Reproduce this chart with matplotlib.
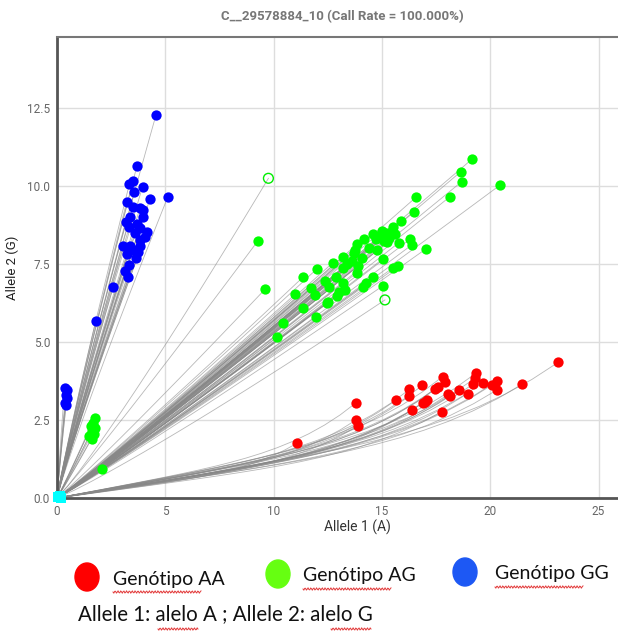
import numpy as np
import matplotlib.pyplot as plt
from matplotlib.patches import Ellipse

# Genotype AA (red)
aa_x = [11.07, 13.8, 13.8, 13.88, 15.65, 16.27, 16.27, 16.87, 16.4, 16.91, 17.07,
        17.8, 17.91, 17.45, 17.6, 16.99, 18.07, 18.14, 18.57, 18.96, 17.76, 19.34,
        19.3, 19.19, 19.68, 20.07, 20.3, 20.3, 21.45, 23.14]
aa_y = [1.75, 3.05, 2.5, 2.31, 3.14, 3.48, 3.27, 3.61, 2.82, 3.05, 3.14,
        3.89, 3.73, 3.49, 3.55, 3.09, 3.32, 3.28, 3.46, 3.35, 2.77, 4.0,
        3.84, 3.64, 3.7, 3.62, 3.75, 3.46, 3.64, 4.35]

# Genotype AG (green)
ag_x = [9.27, 9.6, 19.17, 18.64, 18.68, 20.45, 18.14, 16.57, 16.5, 15.9, 15.5,
        15.0, 14.57, 14.19, 15.79, 16.3, 16.37, 17.02, 14.79, 13.84, 13.76, 15.03,
        13.19, 12.73, 11.99, 15.53, 15.76, 13.19, 13.84, 11.34, 14.6, 12.37, 12.57,
        11.73, 13.22, 13.3, 14.27, 14.14, 15.04, 10.99, 11.91, 12.91, 12.53, 12.45,
        11.37, 11.96, 10.42, 10.17, 15.2, 15.35, 15.1, 15.45, 14.9, 15.25, 14.75,
        13.6, 13.9, 14.1, 13.4, 13.7, 12.9, 13.0, 14.4, 15.6,
        1.75, 1.65, 1.55, 1.75, 1.6, 1.7, 1.5, 1.6, 2.06]
ag_y = [8.24, 6.69, 10.87, 10.46, 10.14, 10.03, 9.66, 9.64, 9.18, 8.88, 8.7,
        8.57, 8.46, 8.29, 8.19, 8.3, 8.11, 7.98, 7.95, 8.13, 7.95, 7.66,
        7.74, 7.54, 7.34, 7.39, 7.44, 7.36, 7.22, 7.07, 7.09, 6.97, 6.77,
        6.74, 6.9, 6.67, 6.88, 6.77, 6.8, 6.53, 6.5, 6.49, 6.29, 6.24,
        6.08, 5.81, 5.62, 5.17, 8.5, 8.35, 8.25, 8.55, 8.4, 8.2, 8.3,
        7.6, 7.45, 7.7, 7.5, 7.85, 7.1, 6.6, 8.0, 8.45,
        2.55, 2.4, 2.3, 2.25, 2.15, 2.05, 2.0, 1.9, 0.93]

# undetermined calls (open green circles)
und_x = [9.76, 15.14]
und_y = [10.25, 6.35]

# Genotype GG (blue)
gg_x = [4.57, 3.69, 3.34, 3.52, 3.95, 3.57, 4.29, 5.12, 3.22, 3.52, 3.83, 3.97,
        3.37, 3.98, 3.17, 3.68, 3.34, 3.83, 4.14, 3.6, 4.06, 3.83, 3.06, 3.37,
        3.83, 3.52, 3.75, 3.25, 3.63, 3.34, 3.14, 3.26, 2.6, 1.79,
        0.35, 0.45, 0.4, 0.45, 0.38, 0.42]
gg_y = [12.28, 10.64, 10.06, 10.16, 9.98, 9.82, 9.58, 9.66, 9.5, 9.34, 9.29, 9.23,
        9.02, 9.0, 8.86, 8.8, 8.7, 8.65, 8.54, 8.49, 8.38, 8.27, 8.09, 8.09,
        8.09, 7.95, 7.9, 7.82, 7.68, 7.47, 7.29, 7.07, 6.77, 5.68,
        3.52, 3.45, 3.3, 3.2, 3.05, 2.98]

# no template controls
ntc_x = [0.05, 0.12, 0.2]
ntc_y = [0.02, 0.05, 0.01]

x_ticks = [0, 5, 10, 15, 20, 25]
y_ticks = [0.0, 2.5, 5.0, 7.5, 10.0, 12.5]


def trajectories(ax, xs, ys, shape):
    # amplification path from the origin to the end-point of each sample
    t = np.linspace(0, 1, 20)
    for x, y in zip(xs, ys):
        ax.plot(x * t, y * shape(t), color="#888888", lw=0.6, alpha=0.6, zorder=2)


def squiggle(fig, x0, x1, y):
    xs = np.linspace(x0, x1, int((x1 - x0) * 1.2))
    ys = y + 1.2 * np.sin((xs - x0) * 2.2)
    fig.add_artist(plt.Line2D(xs / 618, 1 - ys / 633, color="#e23a3a", lw=0.7))


fig = plt.figure(figsize=(6.18, 6.33), dpi=100)
ax = fig.add_axes([57 / 618, 135 / 633, 600 / 618, 461 / 633])

trajectories(ax, aa_x, aa_y, lambda t: 0.6 * t + 0.4 * t ** 5)
trajectories(ax, ag_x, ag_y, lambda t: t ** 1.05)
trajectories(ax, und_x, und_y, lambda t: t ** 1.1)
trajectories(ax, gg_x, gg_y, lambda t: t ** 0.92)

ax.scatter(aa_x, aa_y, s=55, color="#ff0000", zorder=4, linewidths=0)
ax.scatter(ag_x, ag_y, s=55, color="#00ff00", zorder=4, linewidths=0)
ax.scatter(gg_x, gg_y, s=55, color="#0000ff", zorder=4, linewidths=0)
ax.scatter(und_x, und_y, s=50, facecolors="none", edgecolors="#00ee00", linewidths=1, zorder=4)
ax.scatter(ntc_x, ntc_y, s=60, marker="s", color="#00ffff", zorder=5, linewidths=0, clip_on=False)

ax.set_xlim(0, 27.7)
ax.set_ylim(0, 14.78)
ax.set_xticks(x_ticks)
ax.set_yticks(y_ticks)
ax.set_xticklabels([str(v) for v in x_ticks])
ax.set_yticklabels([f"{v:.1f}" for v in y_ticks])
ax.grid(True, color="#dddddd", lw=1)
ax.set_axisbelow(True)
ax.tick_params(length=0, labelsize=8.5, labelcolor="#666666", pad=5)
for lab in ax.get_xticklabels() + ax.get_yticklabels():
    lab.set_family("Roboto")

for side in ["left", "bottom"]:
    ax.spines[side].set_color("#555555")
    ax.spines[side].set_linewidth(2)
ax.spines["top"].set_color("#777777")
ax.spines["top"].set_linewidth(1.5)
ax.spines["right"].set_visible(False)

ax.set_xlabel("Allele 1 (A)", family="Roboto", fontsize=10, color="#333333", labelpad=1)
ax.set_ylabel("Allele 2 (G)", family="Roboto", fontsize=9.5, color="#222222", labelpad=6)

fig.text(342 / 618, 1 - 17 / 633, "C__29578884_10 (Call Rate = 100.000%)", family="Roboto",
         fontsize=9.5, weight="bold", color="#777777", ha="center", va="center")

# legend drawn below the chart
legend = [("Genótipo AA", "#ff0000", 87, 577, 113),
          ("Genótipo AG", "#66ff11", 278, 574, 303),
          ("Genótipo GG", "#1d58f4", 465, 572, 495)]
for label, color, cx, cy, tx in legend:
    fig.add_artist(Ellipse((cx / 618, 1 - cy / 633), 24 / 618, 28 / 633, color=color,
                           transform=fig.transFigure))
    fig.text(tx / 618, 1 - (cy + 2) / 633, label, family="Lato", fontsize=14,
             color="#111111", ha="left", va="center")
    squiggle(fig, tx, tx + 88, cy + 15)

fig.text(78 / 618, 1 - 614 / 633, "Allele 1: alelo A ; Allele 2: alelo G", family="Lato",
         fontsize=14.8, color="#111111", ha="left", va="center")
squiggle(fig, 158, 198, 629)
squiggle(fig, 331, 371, 629)

fig.savefig("out.png", dpi=100)
